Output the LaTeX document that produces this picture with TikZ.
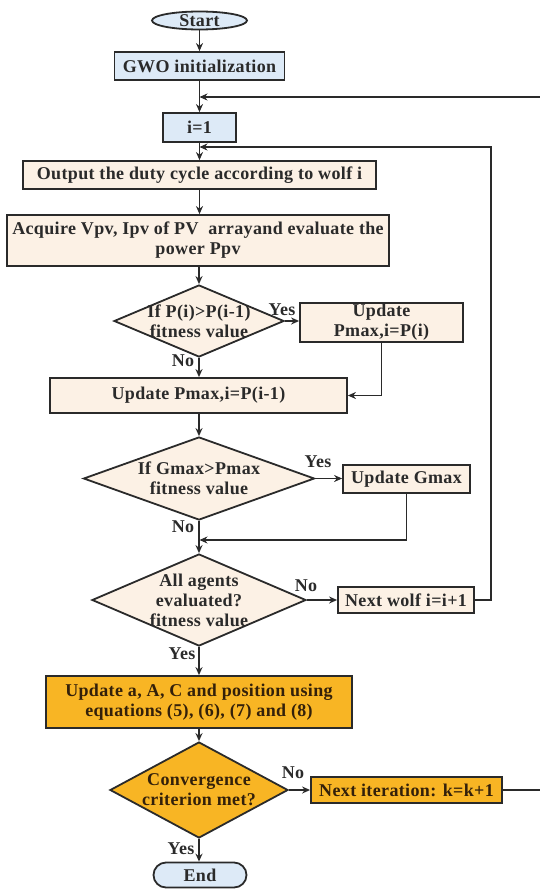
\documentclass[tikz,border=0pt]{standalone}
\usepackage{fontspec}
\setmainfont{Liberation Serif}[LetterSpace=2]
\usetikzlibrary{shapes.geometric,shapes.misc,arrows.meta}
\definecolor{lblue}{HTML}{DDEAF7}
\definecolor{beige}{HTML}{FCF1E5}
\definecolor{orng}{HTML}{F8B524}
\definecolor{ln}{HTML}{2A2A2A}
\definecolor{brtxt}{HTML}{33200A}
\tikzset{
  every node/.style={font=\fontsize{18}{20}\selectfont\bfseries, text=ln},
  blk/.style={draw=ln, line width=1.8pt, inner sep=0pt, align=center},
  bbox/.style={blk, fill=beige},
  lbbox/.style={blk, fill=lblue},
  obox/.style={blk, fill=orng, text=brtxt},
  dia/.style={blk, shape=diamond, fill=beige},
  odia/.style={blk, shape=diamond, fill=orng},
  txt/.style={align=center, inner sep=0pt},
  lbl/.style={inner sep=0pt},
  arr/.style={draw=ln, line width=1.7pt, -{Stealth[length=8pt,width=7pt]}},
  ln/.style={draw=ln, line width=1.7pt}
}
\begin{document}
\begin{tikzpicture}[x=1pt,y=-1pt]
\useasboundingbox (0,0) rectangle (539,891);
\node[lbbox, ellipse, minimum width=95pt, minimum height=18pt] (start) at (199.5,20.5) {Start};
\node[lbbox, minimum width=170pt, minimum height=28pt] (gwo) at (199.5,66) {GWO initialization};
\node[lbbox, minimum width=73pt, minimum height=29pt] (i1) at (199.5,127.5) {i=1};
\node[bbox, minimum width=353pt, minimum height=28pt] (out) at (199.5,175) {Output the duty cycle according to wolf i};
\node[bbox, minimum width=382pt, minimum height=51pt] (acq) at (198,240.5) {Acquire Vpv, Ipv of PV \ arrayand evaluate the\\power Ppv};
\node[dia, minimum width=170pt, minimum height=72pt] (d1) at (199,321) {};
\node[txt] (d1t) at (d1.center) {If P(i)>P(i-1)\\fitness value};
\node[bbox, minimum width=163pt, minimum height=39pt] (up1) at (381.5,322.5) {Update\\Pmax,i=P(i)};
\node[bbox, minimum width=297pt, minimum height=35pt] (upp) at (198.5,395.5) {Update Pmax,i=P(i-1)};
\node[dia, minimum width=231pt, minimum height=83pt] (d2) at (199,478.5) {};
\node[txt] (d2t) at (d2.center) {If Gmax>Pmax\\fitness value};
\node[bbox, minimum width=127pt, minimum height=28pt] (upg) at (406.5,479) {Update Gmax};
\node[dia, minimum width=214pt, minimum height=92pt] (d3) at (199,600) {};
\node[txt] (d3t) at (d3.center) {All agents\\evaluated?\\fitness value};
\node[bbox, minimum width=136pt, minimum height=26pt] (nw) at (406,600) {Next wolf i=i+1};
\node[obox, minimum width=306pt, minimum height=52pt] (upa) at (199,702) {Update a, A, C and position using\\equations (5), (6), (7) and (8)};
\node[odia, minimum width=178pt, minimum height=96pt] (d4) at (199,790) {};
\node[txt, text=brtxt] (d4t) at (d4.center) {Convergence\\criterion met?};
\node[obox, minimum width=191pt, minimum height=26pt] (ni) at (406.5,790) {Next iteration: k=k+1};
\node[lbbox, rounded rectangle, minimum width=93pt, minimum height=25pt] (end) at (200,875) {End};
% labels
\node[lbl] (y1) at (282,310) {Yes};
\node[lbl] (n1) at (183,361) {No};
\node[lbl] (y2) at (318,462) {Yes};
\node[lbl] (n2) at (183,527) {No};
\node[lbl] (n3) at (306,586) {No};
\node[lbl] (y3) at (182,654) {Yes};
\node[lbl] (n4) at (293,773) {No};
\node[lbl] (y4) at (181,849) {Yes};
% coordinates
\coordinate (j0) at (199.5,97);
\coordinate (j1) at (199.5,147);
\coordinate (j2) at (199.5,540);
\coordinate (r1) at (491,600);
\coordinate (r1t) at (491,147);
\coordinate (r2) at (541,790);
\coordinate (r2t) at (541,97);
% connectors
\draw[arr] (start) -- (gwo);
\draw[ln] (gwo) -- (j0);
\draw[arr] (j0) -- (i1);
\draw[ln] (i1) -- (j1);
\draw[arr] (j1) -- (out);
\draw[arr] (out) -- (out.south |- acq.north);
\draw[arr] (acq.south -| d1.north) -- (d1.north);
\draw[arr] (d1.east) -- (up1.west |- d1.east);
\draw[arr] (up1.south) |- (upp.east);
\draw[arr] (d1.south) -- (d1.south |- upp.north);
\draw[arr] (upp.south -| d2.north) -- (d2.north);
\draw[arr] (d2.east) -- (upg.west |- d2.east);
\draw[arr] (upg.south) |- (j2);
\draw[arr] (d2.south) -- (d3.north);
\draw[arr] (d3.east) -- (nw.west |- d3.east);
\draw[arr] (nw.east) -- (r1) -- (r1t) -- (j1);
\draw[arr] (d3.south) -- (upa.north -| d3.south);
\draw[arr] (upa.south -| d4.north) -- (d4.north);
\draw[arr] (d4.east) -- (ni.west |- d4.east);
\draw[arr] (ni.east) -- (r2) -- (r2t) -- (j0);
\draw[arr] (d4.south) -- (end.north -| d4.south);
\end{tikzpicture}
\end{document}
